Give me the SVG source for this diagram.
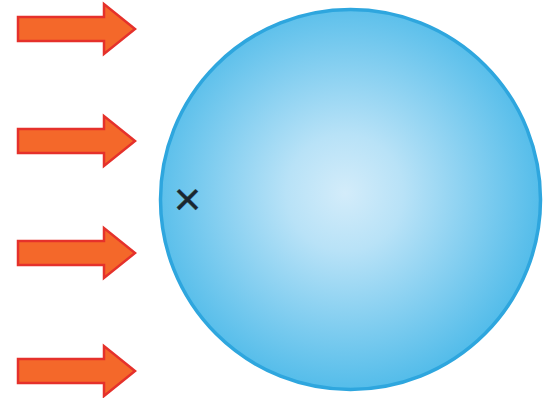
<svg xmlns="http://www.w3.org/2000/svg" width="551" height="398" viewBox="0 0 551 398">
<defs>
<radialGradient id="g" cx="345" cy="193" r="195" gradientUnits="userSpaceOnUse">
<stop offset="0" stop-color="#d3ecfa"/>
<stop offset="0.3" stop-color="#b8e2f7"/>
<stop offset="1" stop-color="#55bdea"/>
</radialGradient>
<path id="arr" d="M18,-12 L104,-12 L104,-25 L135,0 L104,25 L104,12 L18,12 Z"/>
</defs>
<style>
.arrow{fill:#f4682a;stroke:#e5312b;stroke-width:2.5;stroke-linejoin:miter}
.cross{font-family:"Liberation Sans",Arial,sans-serif;font-size:47px;fill:#1b2630;stroke:#1b2630;stroke-width:0.4}
</style>
<rect width="551" height="398" fill="#ffffff"/>
<g id="arrows">
<use href="#arr" class="arrow" transform="translate(0,29)"/>
<use href="#arr" class="arrow" transform="translate(0,141)"/>
<use href="#arr" class="arrow" transform="translate(0,253)"/>
<use href="#arr" class="arrow" transform="translate(0,371)"/>
</g>
<g id="sphere">
<circle cx="350.5" cy="199.5" r="190" fill="url(#g)" stroke="#2ea6de" stroke-width="3.5"/>
</g>
<g id="mark">
<text class="cross" x="187.5" y="215" text-anchor="middle">×</text>
</g>
</svg>
